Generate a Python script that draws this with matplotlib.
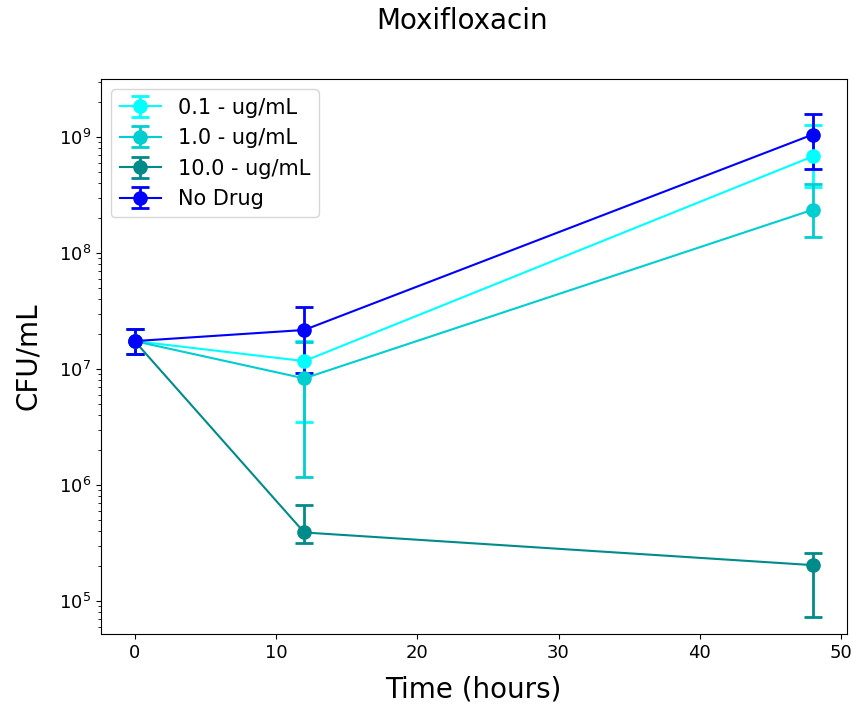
import numpy as np
import matplotlib
matplotlib.use("Agg")
from matplotlib import pyplot as plt

# sampling times (hours)
time = [0, 12, 48]

labels = ["0.1 - ug/mL", "1.0 - ug/mL", "10.0 - ug/mL", "No Drug"]
colors = ["cyan", "darkturquoise", "darkcyan", "blue"]

# mean CFU/mL and error bar ends (low, high) for each group
mean_01 = [1.74e7, 1.17e7, 6.8e8]
low_01 = [1.35e7, 3.5e6, 3.7e8]
high_01 = [2.2e7, 1.75e7, 1.28e9]

mean_10 = [1.74e7, 8.3e6, 2.36e8]
low_10 = [1.35e7, 1.17e6, 1.38e8]
high_10 = [2.2e7, 1.7e7, 3.9e8]

mean_100 = [1.74e7, 3.9e5, 2.04e5]
low_100 = [1.35e7, 3.16e5, 7.3e4]
high_100 = [2.2e7, 6.7e5, 2.59e5]

mean_nd = [1.74e7, 2.17e7, 1.05e9]
low_nd = [1.35e7, 9.2e6, 5.33e8]
high_nd = [2.2e7, 3.42e7, 1.59e9]

means = [mean_01, mean_10, mean_100, mean_nd]
lows = [low_01, low_10, low_100, low_nd]
highs = [high_01, high_10, high_100, high_nd]

fig = plt.figure(figsize=(8.54, 7.11), dpi=100)
ax = fig.add_axes([0.118, 0.1083, 0.8735, 0.7806])

for m, lo, hi, lab, c in zip(means, lows, highs, labels, colors):
    m = np.array(m)
    yerr = np.vstack((m - np.array(lo), np.array(hi) - m))
    ax.errorbar(time, m, yerr=yerr, fmt="-o", color=c, label=lab,
                capsize=6.5, capthick=2, elinewidth=2, markersize=9.5, linewidth=1.5)

ax.set_yscale("log")
ax.set_ylim(5.2e4, 3.16e9)
fig.suptitle("Moxifloxacin", fontsize=20, x=0.541, y=0.971, va="center")
ax.set_xlabel("Time (hours)", fontsize=20, labelpad=10)
ax.set_ylabel("CFU/mL", fontsize=20, labelpad=12)
ax.tick_params(labelsize=13)
ax.legend(loc="upper left", fontsize=15)

plt.savefig("out.png", dpi=100)
